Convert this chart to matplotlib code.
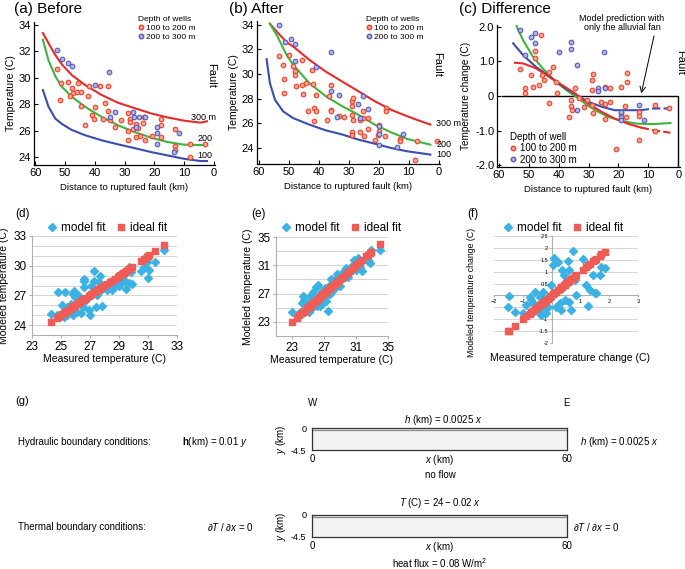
import matplotlib
matplotlib.use("Agg")
import matplotlib.pyplot as plt
from matplotlib.lines import Line2D

plt.rcParams['font.family'] = ['Liberation Sans', 'DejaVu Sans']
plt.rcParams['mathtext.fontset'] = 'custom'
plt.rcParams['mathtext.rm'] = 'Liberation Sans'
plt.rcParams['mathtext.it'] = 'Liberation Sans:italic'
plt.rcParams['mathtext.bf'] = 'Liberation Sans:bold'

W, H = 685, 569

# ---------------- (a) Before ----------------
a_red_x = [52.8, 51.3, 51.7, 48.9, 47.8, 47.4, 48.3, 45.6, 46.1, 44.7, 44.7, 43.3, 42.4, 42.0, 41.1,
           40.2, 40.0, 38.3, 37.2, 36.7, 35.6, 35.6, 35.0, 33.3, 31.1, 28.7, 28.3, 28.3, 28.9, 28.7,
           27.2, 26.1, 26.1, 25.3, 24.7, 23.3, 23.6, 23.1, 20.6, 17.8, 17.8, 17.8, 13.1, 13.1, 13.1,
           8.0, 2.8, 7.8]
a_red_t = [30.66, 29.57, 28.3, 29.7, 29.2, 28.8, 28.6, 29.6, 28.9, 28.9, 27.85, 26.4, 28.6, 29.4, 27.2,
           26.9, 27.8, 29.4, 26.9, 28.05, 29.4, 27.5, 26.8, 26.3, 26.8, 27.3, 26.9, 26.65, 26.0, 25.3,
           26.1, 26.5, 25.5, 26.2, 25.6, 27.0, 26.6, 25.3, 25.6, 26.9, 26.4, 25.5, 26.15, 24.8, 24.55,
           24.0, 25.0, 25.0]
a_blue_x = [52.8, 51.1, 48.9, 47.8, 35.3, 40.0, 33.3, 35.0, 27.2, 26.7, 25.0, 23.1, 19.1, 19.1, 19.1,
            11.7, 13.3, 26.1]
a_blue_t = [32.05, 31.4, 31.1, 30.9, 30.4, 29.45, 27.4, 27.0, 27.4, 27.0, 27.0, 27.0, 26.3, 25.8, 25.0,
            25.8, 24.4, 26.3]
a_curve_x = [57.5, 55.6, 53.3, 51.1, 47.8, 43.3, 37.8, 32.2, 26.7, 21.1, 15.6, 10.0, 4.4, 2.2]
a_300 = [33.37, 32.6, 31.7, 31.0, 30.2, 29.44, 28.7, 28.1, 27.7, 27.3, 27.0, 26.75, 26.6, 26.7]
a_200 = [32.86, 31.3, 30.1, 29.3, 28.56, 27.8, 27.04, 26.4, 25.9, 25.47, 25.14, 24.94, 24.9, 24.94]
a_100 = [29.06, 27.8, 26.9, 26.5, 26.05, 25.65, 25.27, 24.96, 24.68, 24.38, 24.13, 23.87, 23.7, 23.7]

# ---------------- (b) After ----------------
b_red_x = [53.1, 51.8, 51.6, 51.6, 49.9, 48.5, 48.0, 48.0, 47.5, 45.5, 45.5, 45.1, 44.2, 43.6, 42.2,
           41.5, 41.8, 40.7, 40.9, 41.5, 36.6, 35.7, 35.7, 35.7, 37.1, 33.3, 31.6, 28.9, 28.7, 28.4,
           28.7, 28.6, 28.9, 28.9, 26.2, 26.2, 25.1, 25.1, 24.8, 23.5, 23.5, 21.3, 20.2, 19.7, 19.7,
           18.0, 17.5, 17.5, 12.8, 12.8, 7.3, 7.7, 0.5]
b_red_t = [31.43, 30.76, 29.6, 28.46, 31.57, 30.68, 30.27, 29.95, 29.05, 31.16, 29.1, 28.4, 29.3, 26.97, 30.3,
           27.24, 29.2, 26.97, 28.3, 26.16, 28.24, 27.1, 26.97, 29.13, 26.3, 26.6, 26.54, 27.43, 27.78, 28.05,
           26.68, 26.24, 25.27, 25.08, 26.3, 25.27, 26.97, 26.43, 24.95, 26.43, 25.54, 24.68, 25.08, 25.9, 25.35,
           24.95, 27.24, 26.97, 24.73, 24.54, 24.6, 23.0, 24.6]
b_blue_x = [53.1, 51.3, 49.1, 48.0, 48.0, 40.9, 35.7, 35.7, 33.3, 33.8, 26.7, 25.1, 23.5, 26.2, 19.7,
            19.7, 19.7, 11.7, 13.7]
b_blue_t = [34.0, 32.57, 32.84, 32.43, 31.03, 30.6, 31.76, 28.6, 28.3, 26.5, 27.6, 28.2, 27.16, 26.43, 25.8,
            25.1, 24.27, 25.1, 24.1]
b_curve_x = [56.2, 54.0, 50.7, 48.5, 43.1, 37.6, 32.2, 26.7, 21.3, 15.8, 10.4, 4.9, 2.7]
b_300 = [34.08, 33.46, 32.6, 32.24, 31.16, 30.2, 29.4, 28.6, 27.8, 27.1, 26.57, 26.08, 25.9]
b_200 = [34.08, 33.2, 31.57, 30.76, 29.27, 28.2, 27.4, 26.7, 25.9, 25.27, 24.73, 24.4, 24.27]
b_100_x = [57.3, 56.2, 54.5, 51.8, 48.5, 43.1, 37.6, 32.2, 26.7, 21.3, 15.8, 10.4, 4.9, 2.7]
b_100 = [31.2, 29.27, 27.9, 26.97, 26.43, 25.9, 25.43, 25.1, 24.68, 24.35, 24.0, 23.73, 23.54, 23.46]

# ---------------- (c) Difference ----------------
c_red_x = [52.9, 51.3, 51.3, 49.1, 48.5, 47.7, 47.8, 45.8, 45.5, 44.7, 46.4, 43.1, 43.1, 42.0, 40.9,
           40.4, 36.6, 36.0, 35.7, 35.5, 34.4, 33.3, 31.6, 30.6, 28.9, 28.6, 28.9, 28.7, 28.4, 25.9,
           24.6, 24.6, 24.6, 22.9, 22.9, 20.7, 19.1, 19.1, 17.7, 17.1, 17.1, 17.5, 13.1, 13.1, 13.1,
           7.7, 7.7, 3.3]
c_red_d = [0.77, 0.22, 0.1, 0.6, 0.25, 1.3, 1.11, 1.76, 0.6, 0.46, 0.31, 0.7, -0.2, 0.84, 0.41,
           0.09, -0.6, -0.29, -0.12, -0.41, 0.22, -0.07, -0.31, -0.12, 0.46, 0.63, 0.17, -0.27, -0.5, -0.17,
           0.27, -0.22, -0.65, 0.24, -0.17, -1.52, 0.27, -0.49, -0.29, 0.65, 0.41, -0.6, -0.46, -0.58, -1.28,
           -0.27, -1.01, -0.36]
c_blue_x = [52.9, 51.3, 49.1, 47.7, 47.7, 39.8, 35.7, 35.7, 33.8, 33.8, 26.7, 26.7, 24.8, 24.6, 19.1,
            19.1, 19.1, 13.1, 11.5]
c_blue_d = [1.9, 1.18, 1.71, 1.81, 1.52, 1.28, 1.57, 1.37, 0.89, -0.41, 0.22, 0.15, 1.28, 0.24, -0.46,
            -0.6, -0.7, -0.25, -0.7]
c_green_x = [54.0, 51.8, 48.5, 45.3, 40.9, 36.6, 33.3, 30.0, 26.7, 23.5, 19.1, 13.7, 8.2, 2.7]
c_green = [2.02, 1.61, 1.13, 0.8, 0.41, 0.12, -0.07, -0.29, -0.46, -0.6, -0.72, -0.8, -0.81, -0.78]
c_blue_cx = [55.1, 51.8, 47.5, 43.1, 38.7, 34.4, 30.0, 25.6, 21.3, 16.9, 12.6, 8.2, 2.7]
c_blue_c = [1.52, 1.18, 0.84, 0.57, 0.28, 0.05, -0.17, -0.31, -0.41, -0.41, -0.41, -0.36, -0.36]
c_red_cx = [54.5, 51.8, 47.5, 43.1, 38.7, 34.4, 30.0, 25.6, 21.3, 16.9, 12.6, 8.2, 2.7]
c_red_c = [0.96, 0.94, 0.8, 0.55, 0.31, 0.07, -0.22, -0.46, -0.65, -0.8, -0.91, -0.99, -1.06]

# ---------------- (d) (e) (f) model vs measured ----------------
d_meas = [24.3, 24.7, 24.8, 24.9, 25.1, 25.2, 25.3, 25.4, 25.4, 25.6, 25.7, 25.8, 25.8, 25.9, 26.0,
          26.1, 26.2, 26.3, 26.4, 26.5, 26.6, 26.6, 26.6, 26.7, 26.9, 27.0, 27.1, 27.3, 27.3, 27.4,
          27.5, 27.6, 27.7, 27.7, 27.8, 27.9, 28.2, 28.4, 28.5, 28.7, 28.9, 29.0, 29.1, 29.2, 29.3,
          29.4, 29.5, 29.7, 29.7, 29.8, 29.9, 30.5, 30.7, 30.9, 31.0, 31.1, 30.9, 31.5, 32.1]
d_model = [25.1, 25.0, 27.3, 24.9, 26.0, 24.8, 27.3, 25.8, 25.0, 25.5, 26.1, 25.0, 27.1, 27.4, 26.8,
           25.3, 27.0, 26.5, 25.2, 25.8, 28.7, 27.8, 28.5, 26.5, 25.5, 25.0, 27.9, 28.5, 29.5, 25.8,
           27.0, 28.4, 29.0, 27.4, 25.9, 27.9, 27.5, 28.2, 27.5, 28.0, 28.4, 28.0, 28.2, 28.5, 29.0,
           28.5, 27.6, 29.9, 28.3, 29.4, 28.2, 29.5, 29.9, 30.4, 28.8, 29.6, 31.0, 30.4, 31.6]
e_meas = [23.0, 23.6, 23.9, 24.2, 24.4, 24.5, 24.6, 24.9, 25.1, 25.3, 25.4, 25.5, 25.6, 25.8, 26.0,
          26.1, 26.3, 26.4, 26.5, 26.8, 26.9, 27.1, 27.2, 27.3, 27.5, 27.6, 27.8, 27.9, 28.0, 28.2,
          28.4, 28.6, 28.7, 29.0, 29.2, 29.4, 29.8, 30.0, 30.2, 30.6, 30.7, 31.0, 31.3, 31.5, 31.7,
          32.3, 32.5, 32.7, 32.9, 34.0]
e_model = [24.4, 23.9, 24.3, 25.7, 26.7, 26.1, 24.7, 25.4, 24.4, 26.7, 26.1, 24.9, 27.2, 25.8, 27.9,
           25.2, 28.2, 26.6, 25.2, 27.3, 25.6, 27.8, 26.0, 26.7, 24.6, 28.0, 27.0, 29.0, 27.4, 27.7,
           28.9, 29.8, 28.6, 28.0, 29.6, 30.1, 30.6, 29.4, 30.6, 31.0, 31.8, 30.4, 32.0, 30.8, 30.2,
           32.0, 31.8, 31.3, 33.2, 33.1]
f_meas = [-1.49, -1.51, -1.28, -0.99, -0.88, -0.76, -0.71, -0.65, -0.59, -0.53, -0.47, -0.42, -0.38, -0.34,
          -0.30, -0.27, -0.22, -0.19, -0.13, -0.07, -0.01, 0.05, 0.10, 0.16, 0.22, 0.28, 0.34, 0.36, 0.43,
          0.45, 0.51, 0.57, 0.62, 0.68, 0.62, 0.74, 0.80, 0.86, 1.09, 1.20, 1.26, 1.32, 1.44, 1.49, 1.55,
          1.67, 1.73, 1.84]
f_model = [-0.02, -0.49, -0.68, -0.75, -0.40, -0.05, -0.19, -0.33, 0.16, -0.47, -0.61, -0.05, -0.82, -0.33,
           0.16, -0.61, -0.19, -0.75, -0.47, -0.02, 0.44, 1.27, 1.59, -0.47, 1.41, -0.33, -0.61, 1.07, 0.86,
           -0.19, 0.58, 1.45, 1.07, -0.61, -0.26, 1.87, 0.65, 0.02, 1.55, 0.44, -0.44, 0.23, 0.86, 0.09, 0.09,
           0.86, 1.21, 1.14]

RED_C = '#e82a2a'
GREEN_C = '#3db53d'
BLUE_C = '#3a4db0'
PT_RED = dict(s=11, facecolor='#f7a394', edgecolor='#e8452e', linewidths=0.8, zorder=3)
PT_BLUE = dict(s=11, facecolor='#b3b3e6', edgecolor='#5a5ab8', linewidths=0.8, zorder=3)
MODEL_C = '#3ab3e4'
IDEAL_C = '#ee5c58'

fig = plt.figure(figsize=(W / 100, H / 100), dpi=100)


def px_axes(l, t, r, b):
    return fig.add_axes([l / W, 1 - b / H, (r - l) / W, (b - t) / H])


def fig_text(x, y, s, **kw):
    return fig.text(x / W, 1 - y / H, s, **kw)


def style_top(ax):
    for side in ['top', 'right']:
        ax.spines[side].set_visible(False)
    for side in ['left', 'bottom']:
        ax.spines[side].set_linewidth(0.9)
    ax.tick_params(direction='in', length=3, width=0.8, labelsize=8, pad=2)
    ax.set_xlim(60.5, -0.5)
    ax.set_xticks([60, 50, 40, 30, 20, 10, 0])
    ax.set_xlabel('Distance to ruptured fault (km)', fontsize=6.8, labelpad=4)


def depth_legend(ax, x, y, title, fs):
    handles = [Line2D([], [], ls='', marker='o', ms=3.2, mfc='#f7a394', mec='#e8452e', label='100 to 200 m'),
               Line2D([], [], ls='', marker='o', ms=3.2, mfc='#b3b3e6', mec='#5a5ab8', label='200 to 300 m')]
    leg = ax.legend(handles=handles, title=title, loc='upper left', bbox_to_anchor=(x / W, 1 - y / H),
                    bbox_transform=fig.transFigure, frameon=False, fontsize=fs, title_fontsize=fs,
                    alignment='left', handlelength=0.6, handletextpad=0.4, borderpad=0, labelspacing=0.15)
    return leg


# (a)
ax = px_axes(34, 22, 215, 165)
style_top(ax)
ax.plot(a_curve_x, a_300, color=RED_C, lw=1.5)
ax.plot(a_curve_x, a_200, color=GREEN_C, lw=1.5)
ax.plot(a_curve_x, a_100, color=BLUE_C, lw=1.5)
ax.scatter(a_red_x, a_red_t, **PT_RED)
ax.scatter(a_blue_x, a_blue_t, **PT_BLUE)
ax.set_ylim(23.4, 34.2)
ax.set_yticks([24, 26, 28, 30, 32, 34])
ax.set_ylabel('Temperature (C)', fontsize=7.5, labelpad=2)
ax.text(7.5, 26.95, '300 m', fontsize=6.5, va='center')
ax.text(5.5, 25.4, '200', fontsize=6.5, va='center')
ax.text(5.5, 24.15, '100', fontsize=6.5, va='center')
ax.text(0.8, 30.2, 'Fault', fontsize=8, rotation=-90, va='center', ha='center')
depth_legend(ax, 134, 12, 'Depth of wells', 6)
fig_text(14, 9, '(a) Before', fontsize=11, va='center')

# (b)
ax = px_axes(257, 21, 440, 164)
style_top(ax)
ax.plot(b_curve_x, b_300, color=RED_C, lw=1.5)
ax.plot(b_curve_x, b_200, color=GREEN_C, lw=1.5)
ax.plot(b_100_x, b_100, color=BLUE_C, lw=1.5)
ax.scatter(b_red_x, b_red_t, **PT_RED)
ax.scatter(b_blue_x, b_blue_t, **PT_BLUE)
ax.set_ylim(22.7, 34.3)
ax.set_yticks([24, 26, 28, 30, 32, 34])
ax.set_ylabel('Temperature (C)', fontsize=7.5, labelpad=2)
ax.text(0.8, 26.0, '300 m', fontsize=6.5, va='center', clip_on=False)
ax.text(0.8, 24.27, '200', fontsize=6.5, va='center', clip_on=False)
ax.text(0.8, 23.45, '100', fontsize=6.5, va='center', clip_on=False)
ax.text(0.5, 30.8, 'Fault', fontsize=8, rotation=-90, va='center', ha='center')
depth_legend(ax, 362, 12, 'Depth of wells', 6)
fig_text(229, 9, '(b) After', fontsize=11, va='center')

# (c)
ax = px_axes(497, 25, 680, 167)
style_top(ax)
ax.plot([58.8, 0, 0], [0, 0, -2.05], color='black', lw=1.0, zorder=2)
ax.plot(c_green_x, c_green, color=GREEN_C, lw=1.5)
ax.plot(c_blue_cx[:-2], c_blue_c[:-2], color=BLUE_C, lw=1.5)
ax.plot(c_blue_cx[-3:], c_blue_c[-3:], color=BLUE_C, lw=1.5, ls=(0, (4, 1.5)))
ax.plot(c_red_cx[:-2], c_red_c[:-2], color=RED_C, lw=1.5)
ax.plot(c_red_cx[-3:], c_red_c[-3:], color=RED_C, lw=1.5, ls=(0, (4, 1.5)))
ax.scatter(c_red_x, c_red_d, **PT_RED)
ax.scatter(c_blue_x, c_blue_d, **PT_BLUE)
ax.set_ylim(-2.05, 2.05)
ax.set_yticks([2, 1, 0, -1, -2])
ax.set_yticklabels(['2.0', '1.0', '0', '-1.0', '-2.0'])
ax.set_ylabel('Temperature change (C)', fontsize=7.2, labelpad=3)
depth_legend(ax, 505, 127, 'Depth of well', 7)
ax.annotate('', xy=(12.4, 0.08), xytext=(654 / W, 1 - 36 / H), textcoords='figure fraction',
            arrowprops=dict(arrowstyle='->', lw=0.7, color='black', shrinkA=0, shrinkB=0))
fig_text(622, 23, 'Model prediction with\nonly the alluvial fan', fontsize=6.5, ha='center', va='center',
         linespacing=1.1)
fig_text(680, 62, 'Fault', fontsize=8, rotation=-90, va='center', ha='center')
fig_text(459, 9, '(c) Difference', fontsize=11, va='center')


def style_fit(ax, legend_x):
    for side in ['top', 'right']:
        ax.spines[side].set_visible(False)
    for side in ['left', 'bottom']:
        ax.spines[side].set_color('#b0b0b0')
        ax.spines[side].set_linewidth(0.8)
    ax.tick_params(length=2, color='#b0b0b0', labelsize=8.5, pad=2)
    ax.grid(axis='y', which='both', color='#d4d4d4', lw=0.7)
    ax.set_axisbelow(True)
    handles = [Line2D([], [], ls='', marker='D', ms=4, color=MODEL_C, label='model fit'),
               Line2D([], [], ls='', marker='s', ms=5, color=IDEAL_C, label='ideal fit')]
    ax.legend(handles=handles, loc='center left', bbox_to_anchor=(legend_x / W, 1 - 228 / H),
              bbox_transform=fig.transFigure, ncol=2, frameon=False, fontsize=8.5, handlelength=0.7,
              handletextpad=0.4, columnspacing=1.0, borderpad=0)


# (d)
ax = px_axes(32, 236, 177, 335)
ax.scatter(d_meas, d_model, marker='D', s=16, color=MODEL_C, zorder=3)
ax.scatter(d_meas, d_meas, marker='s', s=24, color=IDEAL_C, zorder=4)
ax.set_xlim(23, 33)
ax.set_ylim(23, 33)
ax.set_xticks([23, 25, 27, 29, 31, 33])
ax.set_yticks([24, 27, 30, 33])
ax.set_yticks(range(23, 34), minor=True)
ax.tick_params(which='minor', length=0)
style_fit(ax, 42)
ax.set_xlabel('Measured temperature (C)', fontsize=7.5, labelpad=1)
ax.set_ylabel('Modeled temperature (C)', fontsize=7.5, labelpad=3)
fig_text(15, 214, '(d)', fontsize=8.5, va='center')

# (e)
ax = px_axes(276, 237, 388, 336)
ax.scatter(e_meas, e_model, marker='D', s=16, color=MODEL_C, zorder=3)
ax.scatter(e_meas, e_meas, marker='s', s=24, color=IDEAL_C, zorder=4)
ax.set_xlim(21, 35)
ax.set_ylim(21, 35)
ax.set_xticks([23, 27, 31, 35])
ax.set_yticks([23, 27, 31, 35])
ax.set_yticks(range(21, 36, 2), minor=True)
ax.tick_params(which='minor', length=0)
style_fit(ax, 276)
ax.set_xlabel('Measured temperature (C)', fontsize=7.5, labelpad=1)
ax.set_ylabel('Modeled temperature (C)', fontsize=7.5, labelpad=3)
fig_text(251, 214, '(e)', fontsize=8.5, va='center')

# (f)
ax = px_axes(494, 236, 638, 343)
ax.scatter(f_meas, f_model, marker='D', s=16, color=MODEL_C, zorder=3)
ax.scatter(f_meas, f_meas, marker='s', s=24, color=IDEAL_C, zorder=4)
ax.set_xlim(-2, 3)
ax.set_ylim(-2, 2.5)
ax.set_xticks([-2, -1, 0, 1, 2, 3])
ax.set_yticks([-2, -1.5, -1, -0.5, 0, 0.5, 1, 1.5, 2, 2.5])
ax.set_yticklabels(['-2', '-1.5', '-1', '-0.5', '0', '0.5', '1', '1.5', '2', '2.5'])
style_fit(ax, 498)
ax.spines['left'].set_position(('data', 0))
ax.spines['bottom'].set_position(('data', 0))
ax.tick_params(labelsize=4, length=1.5, pad=1)
fig_text(471, 292, 'Modeled temperature change (C)', fontsize=6.3, rotation=90, ha='center', va='center')
fig_text(570, 358, 'Measured temperature change (C)', fontsize=7.5, ha='center', va='center')
fig_text(467, 214, '(f)', fontsize=8.5, va='center')

# ---------------- (g) boundary conditions ----------------
fig_text(15, 401, '(g)', fontsize=8, va='center')
fig_text(313, 403, 'W', fontsize=7, ha='center', va='center')
fig_text(567, 403, 'E', fontsize=7, ha='center', va='center')

for top, bottom in [(428, 450), (515, 537)]:
    ax = px_axes(312, top, 567, bottom)
    ax.set_xlim(0, 60)
    ax.set_ylim(-4.5, 0)
    ax.set_facecolor('#f3f3f3')
    for sp in ax.spines.values():
        sp.set_linewidth(0.9)
        sp.set_color('#333333')
    ax.axhline(-0.45, color='#8a8a8a', lw=0.9)
    ax.set_xticks([0, 60])
    ax.set_yticks([0, -4.5])
    ax.set_yticklabels(['0', '-4.5'])
    ax.tick_params(axis='x', length=0, labelsize=7, pad=3)
    ax.tick_params(axis='y', length=0, labelsize=6.5, pad=4)
    ax.set_xlabel('$x$ (km)', fontsize=7, labelpad=-8)
    ax.set_ylabel('$y$ (km)', fontsize=7, labelpad=2)

fig_text(443, 420, r'$h$ (km) = $\it{0.0025\ x}$', fontsize=7, ha='center', va='center')
fig_text(18, 442, 'Hydraulic boundary conditions:', fontsize=7, va='center')
fig_text(182, 442, r'$\mathbf{h}$(km) = $\it{0.01\ y}$', fontsize=7, va='center')
fig_text(580, 442, r'$h$ (km) = $\it{0.0025\ x}$', fontsize=7, va='center')
fig_text(440, 475, 'no flow', fontsize=7, ha='center', va='center')
fig_text(440, 503, r'$T$ (C) = $\it{24 - 0.02\ x}$', fontsize=7, ha='center', va='center')
fig_text(18, 527, 'Thermal boundary conditions:', fontsize=7, va='center')
fig_text(207, 527, r'$\partial T\ /\ \partial x$ = 0', fontsize=7, va='center')
fig_text(573, 527, r'$\partial T\ /\ \partial x$ = 0', fontsize=7, va='center')
fig_text(440, 563, 'heat flux = 0.08 W/m$^2$', fontsize=7, ha='center', va='center')

fig.savefig('out.png', dpi=100)
